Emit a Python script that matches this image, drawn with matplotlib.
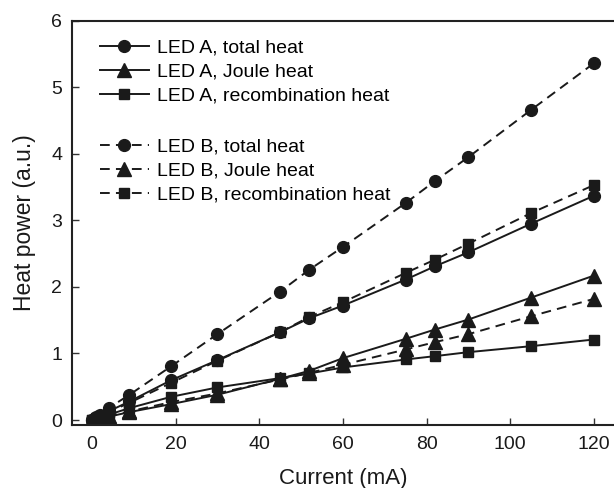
import matplotlib
matplotlib.use("Agg")
import matplotlib.pyplot as plt

plt.rcParams['font.family'] = ['Liberation Sans', 'DejaVu Sans']

current = [0, 1, 2, 4, 9, 19, 30, 45, 52, 60, 75, 82, 90, 105, 120]

a_total = [0.0, 0.03, 0.06, 0.13, 0.28, 0.60, 0.90, 1.32, 1.53, 1.72, 2.11, 2.31, 2.52, 2.95, 3.37]
a_joule = [0.0, 0.01, 0.03, 0.05, 0.12, 0.24, 0.38, 0.62, 0.74, 0.93, 1.22, 1.36, 1.51, 1.84, 2.17]
a_recomb = [0.0, 0.02, 0.04, 0.08, 0.18, 0.35, 0.49, 0.63, 0.70, 0.79, 0.91, 0.96, 1.02, 1.11, 1.21]

b_total = [0.0, 0.04, 0.08, 0.18, 0.38, 0.81, 1.29, 1.93, 2.26, 2.60, 3.26, 3.59, 3.95, 4.66, 5.36]
b_joule = [0.0, 0.01, 0.03, 0.06, 0.13, 0.27, 0.40, 0.61, 0.71, 0.83, 1.06, 1.17, 1.29, 1.56, 1.82]
b_recomb = [0.0, 0.03, 0.06, 0.12, 0.26, 0.56, 0.89, 1.32, 1.55, 1.77, 2.21, 2.41, 2.65, 3.11, 3.53]

labels_a = ["LED A, total heat", "LED A, Joule heat", "LED A, recombination heat"]
labels_b = ["LED B, total heat", "LED B, Joule heat", "LED B, recombination heat"]

x_ticks = [0, 20, 40, 60, 80, 100, 120]
y_ticks = [0, 1, 2, 3, 4, 5, 6]

fig = plt.figure(figsize=(6.14, 4.88), dpi=100)
ax = fig.add_axes([0.117, 0.129, 0.883, 0.8287])

col = '#1a1a1a'
lw = 1.4
dash = (0, (5.0, 3.2))
markers = ['o', '^', 's']
msizes = [8.5, 9.5, 7.8]

hA, hB = [], []
for ys, m, ms, lab in zip([a_total, a_joule, a_recomb], markers, msizes, labels_a):
    h, = ax.plot(current, ys, color=col, lw=lw, marker=m, ms=ms, ls='-', label=lab)
    hA.append(h)
for ys, m, ms, lab in zip([b_total, b_joule, b_recomb], markers, msizes, labels_b):
    h, = ax.plot(current, ys, color=col, lw=lw, marker=m, ms=ms, ls=dash, label=lab)
    hB.append(h)

ax.set_xlim(-4.78, 124.8)
ax.set_ylim(-0.075, 6.0)
ax.set_xticks(x_ticks)
ax.set_yticks(y_ticks)
ax.tick_params(direction='in', length=5, width=1.0, colors='#333333', labelsize=14,
               labelcolor='#1a1a1a', pad=7)
ax.tick_params(axis='x', pad=8)
for s in ['left', 'bottom', 'top']:
    ax.spines[s].set_linewidth(1.5)
    ax.spines[s].set_color('#222222')
ax.spines['right'].set_visible(False)

ax.set_xlabel("Current (mA)", fontsize=16, color='#1a1a1a', labelpad=11)
ax.set_ylabel("Heat power (a.u.)", fontsize=16.5, color='#1a1a1a', labelpad=11)

leg_kw = dict(frameon=False, fontsize=14, handlelength=2.5, handletextpad=0.45,
              labelspacing=0.33, borderpad=0, borderaxespad=0, loc='upper left')
legA = ax.legend(handles=hA, bbox_to_anchor=(100 / 614, 1 - 39 / 488),
                 bbox_transform=fig.transFigure, **leg_kw)
ax.add_artist(legA)
legB = ax.legend(handles=hB, bbox_to_anchor=(100 / 614, 1 - 138 / 488),
                 bbox_transform=fig.transFigure, **leg_kw)

fig.savefig("out.png", dpi=100)
